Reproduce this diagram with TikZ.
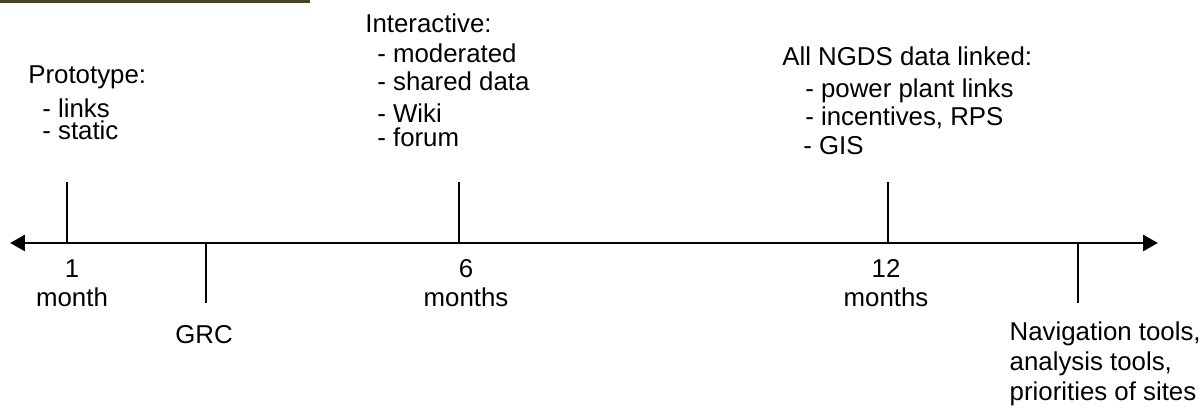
\documentclass[tikz,border=0pt]{standalone}
\usepackage{fontspec}
\setmainfont{Liberation Sans}
\usetikzlibrary{arrows.meta}
\definecolor{tbar}{HTML}{4A4228}
\tikzset{
  txt/.style={font=\fontsize{14.7}{17}\selectfont, inner sep=0pt, align=left, anchor=base west},
  tik/.style={font=\fontsize{14.7}{17}\selectfont, inner sep=0pt, align=center, anchor=base},
  axis/.style={line width=1.7pt, {Triangle[length=8.5pt,width=9pt]}-{Triangle[length=8.5pt,width=9pt]}},
  mark line/.style={line width=1.1pt},
}
\newcommand{\ind}[1]{\hspace*{#1cm}}

\begin{document}
\begin{tikzpicture}[x=0.02cm, y=-0.02cm]
    \useasboundingbox (0,0) rectangle (1204,415);
    \fill[tbar] (0,0) rectangle (310,3);

    % --- time axis -----------------------------------------------------
    \coordinate (left) at (10,243);
    \coordinate (right) at (1158,243);
    \draw[axis] (left) -- (right);

    % --- ticks above (milestones) and below (events) --------------------
    \coordinate (m1) at (67,243);   \coordinate (m1top) at (67,182);
    \coordinate (m6) at (459,243);  \coordinate (m6top) at (459,182);
    \coordinate (m12) at (888,243); \coordinate (m12top) at (888,182);
    \coordinate (grc) at (206,243); \coordinate (grcbot) at (206,303);
    \coordinate (nav) at (1078,243); \coordinate (navbot) at (1078,303);
    \draw[mark line] (m1) -- (m1top);
    \draw[mark line] (m6) -- (m6top);
    \draw[mark line] (m12) -- (m12top);
    \draw[mark line] (grc) -- (grcbot);
    \draw[mark line] (nav) -- (navbot);

    % --- time labels (last baseline) ---------------------------------------
    \node[tik] (t1) at (72,307) {1\\month};
    \node[tik] (t6) at (466,307) {6\\months};
    \node[tik] (t12) at (886,307) {12\\months};
    \node[tik] (grclbl) at (204,343) {GRC};

    % --- what each stage brings -------------------------------------------
    \node[txt] (proto) at (28,140) {Prototype:\\[2.3pt]\ind{0.28}- links\\[-4pt]\ind{0.28}- static};
    \node[txt] (inter) at (365,147) {Interactive:\\\ind{0.24}- moderated\\[-1.1pt]\ind{0.24}- shared data\\[1.1pt]\ind{0.24}- Wiki\\[-2.8pt]\ind{0.24}- forum};
    \node[txt] (ngds) at (782,155) {All NGDS data linked:\\[1.1pt]\ind{0.46}- power plant links\\[-1.1pt]\ind{0.46}- incentives, RPS\\\ind{0.42}- GIS};
    \node[txt, anchor=base east] (navlbl) at (1201,400) {Navigation tools,\\analysis tools,\\priorities of sites};
\end{tikzpicture}
\end{document}
